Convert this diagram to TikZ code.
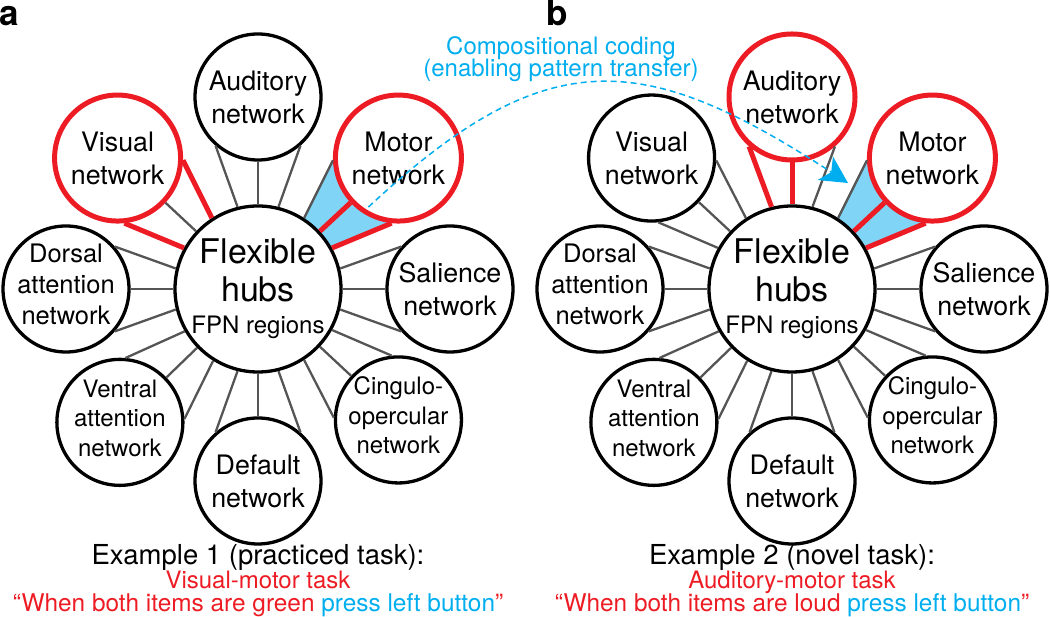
\documentclass[tikz,border=0pt]{standalone}
\usepackage{fontspec}
\setmainfont{TeX Gyre Heros}
\usepackage{xcolor}
\usetikzlibrary{arrows.meta,backgrounds}
\definecolor{NetRed}{RGB}{237,28,36}
\definecolor{CodeBlue}{RGB}{0,174,239}
\definecolor{FanBlue}{RGB}{128,213,246}
\definecolor{Spoke}{RGB}{85,85,85}
\newcommand{\tightlines}{\lineskiplimit-20pt\relax}
\tikzset{
  hub/.style={circle,draw=black,line width=3.3pt,fill=white,minimum size=166pt,inner sep=-10pt,align=center,font=\fontsize{34}{38}\selectfont},
  net/.style={circle,draw=black,line width=3.3pt,fill=white,minimum size=126pt,inner sep=-10pt,align=center,font=\fontsize{26.8}{33}\selectfont},
  netthree/.style={net,font=\fontsize{24}{29.5}\selectfont},
  picked/.style={draw=NetRed,line width=5pt},
  spoke/.style={draw=Spoke,line width=2.3pt},
  link/.style={draw=NetRed,line width=5pt},
  coding/.style={CodeBlue,line width=1.5pt,dash pattern=on 6pt off 4pt,-{Stealth[length=27pt,width=28pt,inset=7pt]}},
  caption/.style={anchor=base,inner sep=0pt},
  panel/.style={anchor=base west,inner sep=0pt,font=\bfseries\fontsize{35}{35}\selectfont},
}
\newcommand{\Spokes}[6]{% hub, network, angle, side A, middle, side B
\pgfmathtruncatemacro\hubang{#3+14}%
\pgfmathtruncatemacro\hubangb{mod(#3-14+360,360)}%
\pgfmathtruncatemacro\netang{mod(#3+180-41,360)}%
\pgfmathtruncatemacro\netangb{mod(#3+180+41,360)}%
\draw[#4] (#1.\hubang) -- (#2.\netang);
\draw[#5] (#1) -- (#2);
\draw[#6] (#1.\hubangb) -- (#2.\netangb);
}
\newcommand{\FanFill}[3]{% hub, network, angle
\pgfmathtruncatemacro\hubang{#3+14}%
\pgfmathtruncatemacro\hubangb{mod(#3-14+360,360)}%
\pgfmathtruncatemacro\netang{mod(#3+180-41,360)}%
\pgfmathtruncatemacro\netangb{mod(#3+180+41,360)}%
\begin{pgfonlayer}{background}
\fill[FanBlue] (#1.center) -- (#1.\hubang) -- (#2.\netang) -- (#2.center) -- (#2.\netangb) -- (#1.\hubangb) -- cycle;
\end{pgfonlayer}
}

\begin{document}
\begin{tikzpicture}[x=1pt,y=1pt]
\useasboundingbox (0,0) rectangle (1050,617);

% panel a: practiced task
\node[panel] (lblA) at (-1,591) {a};
\node[hub] (hubA) at (258,328) {Flexible\\hubs\\[-6pt]{\fontsize{24}{26}\selectfont FPN regions}};
\node[net] (audA) at ([shift={(90:192)}]hubA.center) {Auditory\\network};
\node[net,picked] (motA) at ([shift={(43:192)}]hubA.center) {Motor\\network};
\node[net] (salA) at ([shift={(0:192)}]hubA.center) {Salience\\network};
\node[netthree] (cinA) at ([shift={(317:192)}]hubA.center) {Cingulo-\\opercular\\network\strut};
\node[net] (defA) at ([shift={(270:192)}]hubA.center) {Default\\network};
\node[netthree] (venA) at ([shift={(224:192)}]hubA.center) {Ventral\\attention\\network\strut};
\node[netthree,font=\fontsize{25.5}{31}\selectfont] (dorA) at ([shift={(180:192)}]hubA.center) {Dorsal\\attention\\network\strut};
\node[net,picked] (visA) at ([shift={(137:192)}]hubA.center) {Visual\\network};

\FanFill{hubA}{motA}{43}
\Spokes{hubA}{audA}{90}{spoke}{spoke}{spoke}
\Spokes{hubA}{motA}{43}{spoke}{link}{link}
\Spokes{hubA}{salA}{0}{spoke}{spoke}{spoke}
\Spokes{hubA}{cinA}{317}{spoke}{spoke}{spoke}
\Spokes{hubA}{defA}{270}{spoke}{spoke}{spoke}
\Spokes{hubA}{venA}{224}{spoke}{spoke}{spoke}
\Spokes{hubA}{dorA}{180}{spoke}{spoke}{spoke}
\Spokes{hubA}{visA}{137}{link}{spoke}{link}

\node[caption,font=\fontsize{27.5}{30}\selectfont] (exA) at (258,52) {Example 1 (practiced task):};
\node[caption,font=\fontsize{24}{26}\selectfont,text=NetRed] (taskA) at (258,28) {Visual-motor task};
\node[caption,font=\fontsize{24.4}{26}\selectfont,text=NetRed] (ruleA) at (258,5) {“When both items are green \textcolor{CodeBlue}{press left button}”};

% panel b: novel task
\node[panel] (lblB) at (546,591) {b};
\node[hub] (hubB) at (792,328) {Flexible\\hubs\\[-6pt]{\fontsize{24}{26}\selectfont FPN regions}};
\node[net,picked] (audB) at ([shift={(90:192)}]hubB.center) {Auditory\\network};
\node[net,picked] (motB) at ([shift={(43:192)}]hubB.center) {Motor\\network};
\node[net] (salB) at ([shift={(0:192)}]hubB.center) {Salience\\network};
\node[netthree] (cinB) at ([shift={(317:192)}]hubB.center) {Cingulo-\\opercular\\network\strut};
\node[net] (defB) at ([shift={(270:192)}]hubB.center) {Default\\network};
\node[netthree] (venB) at ([shift={(224:192)}]hubB.center) {Ventral\\attention\\network\strut};
\node[netthree,font=\fontsize{25.5}{31}\selectfont] (dorB) at ([shift={(180:192)}]hubB.center) {Dorsal\\attention\\network\strut};
\node[net] (visB) at ([shift={(137:192)}]hubB.center) {Visual\\network};

\FanFill{hubB}{motB}{43}
\Spokes{hubB}{audB}{90}{link}{link}{spoke}
\Spokes{hubB}{motB}{43}{spoke}{link}{link}
\Spokes{hubB}{salB}{0}{spoke}{spoke}{spoke}
\Spokes{hubB}{cinB}{317}{spoke}{spoke}{spoke}
\Spokes{hubB}{defB}{270}{spoke}{spoke}{spoke}
\Spokes{hubB}{venB}{224}{spoke}{spoke}{spoke}
\Spokes{hubB}{dorB}{180}{spoke}{spoke}{spoke}
\Spokes{hubB}{visB}{137}{spoke}{spoke}{spoke}

\node[caption,font=\fontsize{27.5}{30}\selectfont] (exB) at (792,52) {Example 2 (novel task):};
\node[caption,font=\fontsize{24}{26}\selectfont,text=NetRed] (taskB) at (792,28) {Auditory-motor task};
\node[caption,font=\fontsize{24.4}{26}\selectfont,text=NetRed] (ruleB) at (792,5) {“When both items are loud \textcolor{CodeBlue}{press left button}”};

% compositional coding: motor pattern carried over
\node[align=center,text=CodeBlue,inner sep=0pt,font={\fontsize{24}{22}\selectfont\tightlines}] (codeLbl) at (561,558) {Compositional coding\\(enabling pattern transfer)};
\coordinate (arcStart) at ([shift={(-30,-49)}]motA.center);
\coordinate (arcEnd) at ([shift={(56,106)}]hubB.center);
\draw[coding] (arcStart) to[out=43,in=147,looseness=1.3] (arcEnd);
\end{tikzpicture}
\end{document}
